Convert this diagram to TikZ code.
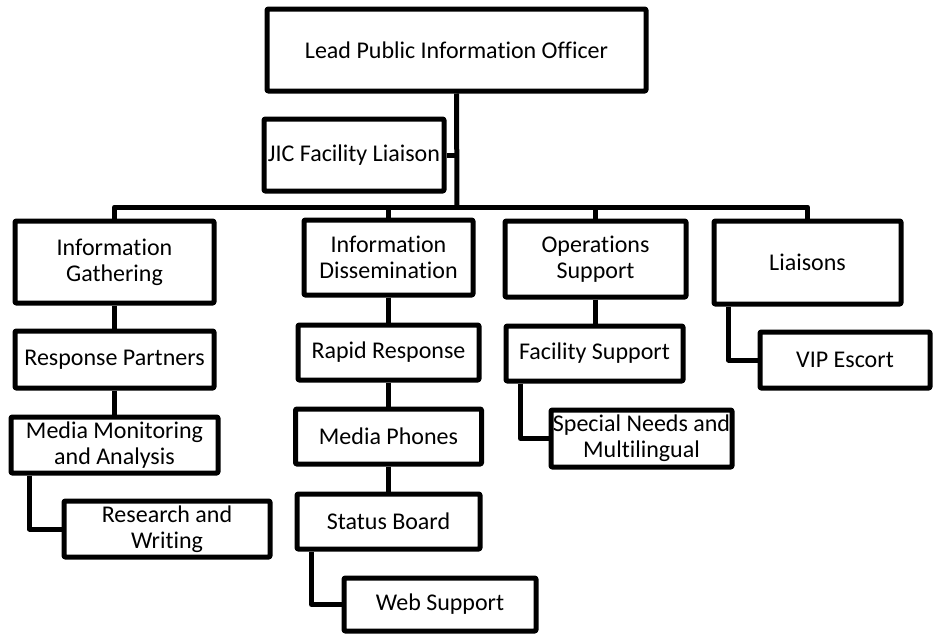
\documentclass[tikz,border=0pt]{standalone}
\usepackage{fontspec}
\setmainfont[Ligatures=NoCommon]{Carlito}
\usepackage{tikz}

\begin{document}
\begin{tikzpicture}[x=1pt,y=-1pt,
  box/.style={draw, line width=5pt, line join=round, rounded corners=1pt,
    align=center, inner sep=0pt, font=\fontsize{24}{26}\selectfont},
  link/.style={line width=5pt, line join=round}]
  \useasboundingbox (0,0) rectangle (935,637);

  % Top level
  \node[box, minimum width=379, minimum height=82] (lead) at (456.5,50) {Lead Public Information Officer};
  \node[box, minimum width=180, minimum height=72] (jic) at (354,155) {JIC Facility Liaison};
  \coordinate (bus) at (457,207);

  % Sections
  \node[box, minimum width=199, minimum height=82] (gath) at (114.5,262) {Information\\Gathering};
  \node[box, minimum width=169, minimum height=75] (diss) at (388.5,257.5) {Information\\Dissemination};
  \node[box, minimum width=181, minimum height=76] (ops) at (595.5,259) {Operations\\Support};
  \node[box, minimum width=187, minimum height=83] (liai) at (807.5,262.5) {Liaisons};

  % Information Gathering units
  \node[box, minimum width=199, minimum height=57] (resp) at (114.5,359.5) {Response Partners};
  \node[box, minimum width=207, minimum height=56] (mon) at (114.5,445) {Media Monitoring\\and Analysis};
  \node[box, minimum width=206, minimum height=56] (res) at (167,529) {Research and\\Writing};

  % Information Dissemination units
  \node[box, minimum width=181, minimum height=55] (rapid) at (388.5,352.5) {Rapid Response};
  \node[box, minimum width=186, minimum height=55] (phones) at (388.5,436.5) {Media Phones};
  \node[box, minimum width=183, minimum height=55] (status) at (388.5,521.5) {Status Board};
  \node[box, minimum width=192, minimum height=53] (web) at (440,604.5) {Web Support};

  % Operations Support units
  \node[box, minimum width=177, minimum height=55] (fac) at (594.5,353.5) {Facility Support};
  \node[box, minimum width=181, minimum height=57] (spec) at (641.5,438.5) {Special Needs and\\Multilingual};

  % Liaisons units
  \node[box, minimum width=170, minimum height=56] (vip) at (845,360) {VIP Escort};

  % Trunk and bus
  \draw[link] (lead.south) -- (bus);
  \draw[link] (jic.east) -- (jic.east -| bus);
  \draw[link] (gath.north) |- (bus);
  \draw[link] (diss.north) |- (bus);
  \draw[link] (ops.north) |- (bus);
  \draw[link] (liai.north) |- (bus);

  % Chains
  \draw[link] (gath.south) -- (gath.south |- resp.north);
  \draw[link] (resp.south) -- (resp.south |- mon.north);
  \draw[link] ([xshift=21pt]mon.south west) |- (res.west);
  \draw[link] (diss.south) -- (diss.south |- rapid.north);
  \draw[link] (rapid.south) -- (rapid.south |- phones.north);
  \draw[link] (phones.south) -- (phones.south |- status.north);
  \draw[link] ([xshift=17pt]status.south west) |- (web.west);
  \draw[link] (ops.south) -- (ops.south |- fac.north);
  \draw[link] ([xshift=17pt]fac.south west) |- (spec.west);
  \draw[link] ([xshift=17pt]liai.south west) |- (vip.west);

\end{tikzpicture}
\end{document}
